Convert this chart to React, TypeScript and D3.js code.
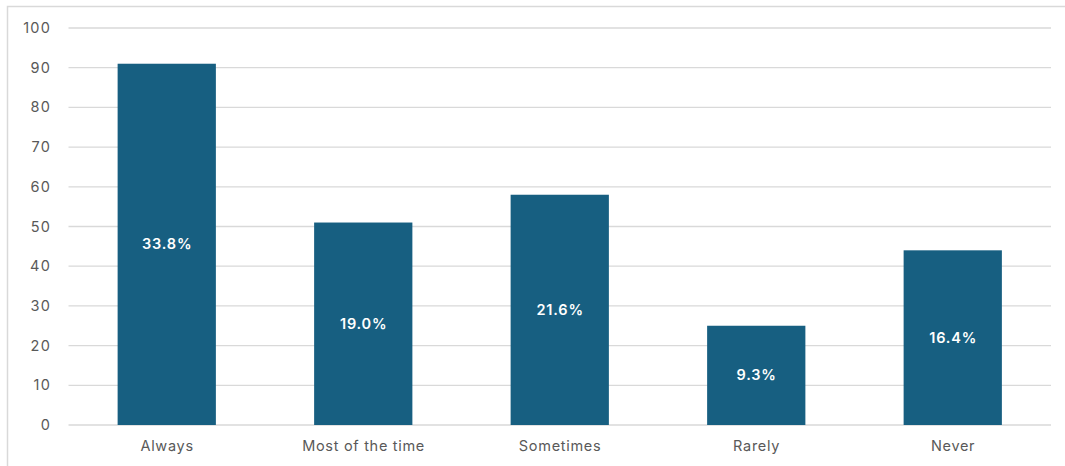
import React from "react";
import * as d3 from "d3";

const categories = ["Always", "Most of the time", "Sometimes", "Rarely", "Never"];
const counts = [91, 51, 58, 25, 44];
const percentLabels = ["33.8%", "19.0%", "21.6%", "9.3%", "16.4%"];
const yTicks = [0, 10, 20, 30, 40, 50, 60, 70, 80, 90, 100];

const W = 1065;
const H = 466;
const left = 68.5;
const right = 1051;
const top = 28;
const bottom = 425;

export default function App() {
  const x = d3.scaleBand<string>().domain(categories).range([left, right]).paddingInner(0.5).paddingOuter(0.25);
  const y = d3.scaleLinear().domain([0, 100]).range([bottom, top]);
  const font = "Inter, 'Open Sans', Arial, sans-serif";
  return (
    <svg width={W} height={H} style={{ position: "absolute", left: 0, top: 0, background: "#fff" }}>
      <rect x={7.5} y={6.5} width={W + 10} height={H + 10} fill="none" stroke="#d9d9d9" strokeWidth={1.5} />
      {yTicks.map((t) => (
        <g key={t}>
          <line x1={left} x2={right} y1={y(t)} y2={y(t)} stroke="#d9d9d9" strokeWidth={1.3} />
          <text x={51} y={y(t)} dy="0.35em" textAnchor="end" fontSize={14.5} letterSpacing={1.2} fill="#595959" fontFamily={font}>
            {t}
          </text>
        </g>
      ))}
      {categories.map((c, i) => {
        const bx = x(c)!;
        const bw = x.bandwidth();
        const by = y(counts[i]);
        return (
          <g key={c}>
            <rect x={bx} y={by} width={bw} height={bottom - by} fill="#175f81" />
            <text
              x={bx + bw / 2 + 0.4}
              y={(by + bottom) / 2}
              dy="0.35em"
              textAnchor="middle"
              fontSize={14.5}
              fontWeight={600}
              letterSpacing={0.8}
              fill="#ffffff"
              fontFamily={font}
            >
              {percentLabels[i]}
            </text>
            <text x={bx + bw / 2 + 0.35} y={446} dy="0.35em" textAnchor="middle" fontSize={14.5} letterSpacing={0.7} fill="#595959" fontFamily={font}>
              {c}
            </text>
          </g>
        );
      })}
    </svg>
  );
}
